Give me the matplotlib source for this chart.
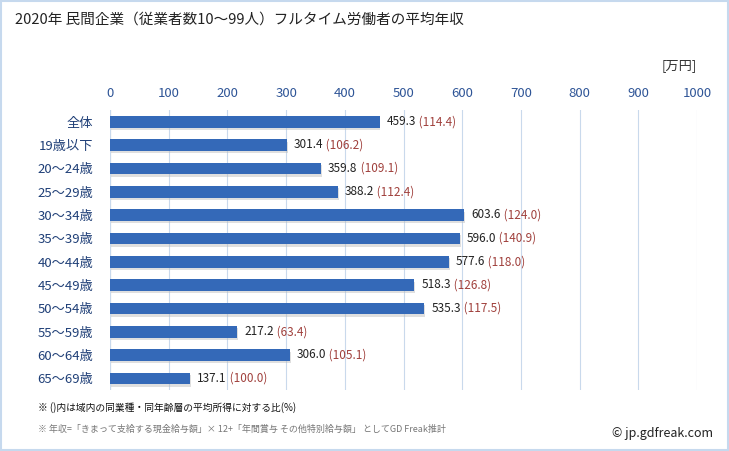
import numpy as np
import matplotlib.pyplot as plt
from matplotlib.patches import Rectangle

plt.rcParams['font.family'] = ['Noto Sans CJK JP', 'DejaVu Sans']

# data
categories = ['全体', '19歳以下', '20～24歳', '25～29歳', '30～34歳', '35～39歳',
              '40～44歳', '45～49歳', '50～54歳', '55～59歳', '60～64歳', '65～69歳']
incomes = [459.3, 301.4, 359.8, 388.2, 603.6, 596.0, 577.6, 518.3, 535.3, 217.2, 306.0, 137.1]
ratios = [114.4, 106.2, 109.1, 112.4, 124.0, 140.9, 118.0, 126.8, 117.5, 63.4, 105.1, 100.0]
xticks = [0, 100, 200, 300, 400, 500, 600, 700, 800, 900, 1000]

fig = plt.figure(figsize=(7.29, 4.51), dpi=100)
ax = fig.add_axes([110/729, 1-390/451, 587/729, 280/451])

y = np.arange(len(categories))
# soft shadow under bars
ax.barh(y + 0.1, incomes, height=0.5, left=1.5, color='#b8b8b8', alpha=0.45, zorder=2)
ax.barh(y, incomes, height=0.5, color='#3469b8', zorder=3)

for yi, v, r in zip(y, incomes, ratios):
    t = ax.annotate(f'{v:.1f}', (v, yi), xytext=(5, 0), textcoords='offset points',
                    va='center', ha='left', fontsize=8.5, color='#222222')
    ax.annotate(f' ({r:.1f})', (1, 0.5), xycoords=t, va='center', ha='left',
                fontsize=8.5, color='#a0403c')

ax.set_xlim(0, 1000)
ax.set_ylim(len(categories) - 0.5, -0.5)
ax.set_xticks(xticks)
ax.set_xticklabels([str(v) for v in xticks])
ax.xaxis.tick_top()
ax.tick_params(axis='x', length=0, pad=7, labelsize=9.5, labelcolor='#2f5597')
ax.set_yticks(y)
ax.set_yticklabels(categories)
ax.tick_params(axis='y', length=0, pad=12, labelsize=9.5, labelcolor='#1f3f77')
ax.grid(axis='x', color='#c9d9ec', linewidth=0.8, zorder=0)
for s in ax.spines.values():
    s.set_visible(False)
ax.axvline(0, color='#c0c0c0', linewidth=0.8, zorder=1)

fig.text(15/729, 1-20/451, '2020年 民間企業（従業者数10～99人）フルタイム労働者の平均年収',
         fontsize=10.5, va='center', ha='left', color='#222222')
fig.text(697/729, 1-66/451, '[万円]', fontsize=9.5, va='center', ha='right', color='#333333')
fig.text(38/729, 1-408/451, '※ ()内は域内の同業種・同年齢層の平均所得に対する比(%)',
         fontsize=7, va='center', ha='left', color='#111111')
fig.text(38/729, 1-429/451, '※ 年収=「きまって支給する現金給与額」× 12+「年間賞与 その他特別給与額」 としてGD Freak推計',
         fontsize=6.5, va='center', ha='left', color='#777777')
fig.text(713/729, 1-434/451, '© jp.gdfreak.com', fontsize=9, va='center', ha='right',
         color='#222222')

fig.patches.append(Rectangle((0.002, 0.003), 0.996, 0.994, transform=fig.transFigure,
                             fill=False, edgecolor='#c6d9ee', linewidth=1.5))

fig.savefig('out.png', dpi=100)
